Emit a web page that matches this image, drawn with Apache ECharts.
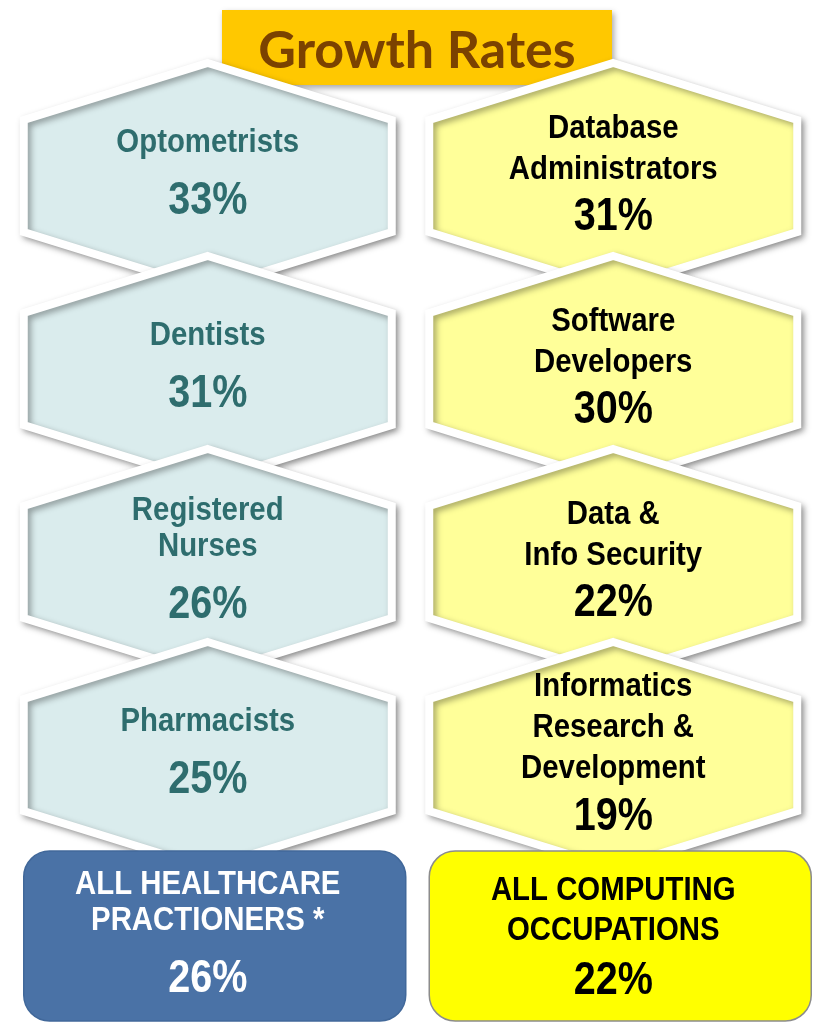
<!DOCTYPE html>
<html>
<head>
<meta charset="utf-8">
<title>Growth Rates</title>
<script src="https://cdn.jsdelivr.net/npm/echarts@6/dist/echarts.min.js"></script>
<style>
  html, body { margin: 0; padding: 0; background: #fff; }
  #chart { width: 816px; height: 1022px; }
</style>
</head>
<body>
<div id="chart"></div>
<script>
// 数据：左列医疗，右列计算机
const healthJobs = ['Optometrists', 'Dentists', 'Registered\nNurses', 'Pharmacists']
const healthRates = [33, 31, 26, 25]
const computingJobs = ['Database\nAdministrators', 'Software\nDevelopers', 'Data &\nInfo Security', 'Informatics\nResearch &\nDevelopment']
const computingRates = [31, 30, 22, 19]
const totalLabels = ['ALL HEALTHCARE\nPRACTIONERS *', 'ALL COMPUTING\nOCCUPATIONS']
const totalRates = [26, 22]

const FONT = '"Liberation Sans", Arial, sans-serif'

// 左右两列的文字样式
const healthStyle = { color: '#2e6d6e', lineH: 36, gap: 58, offset: -4 }
const computingStyle = { color: '#000', lineH: 41, gap: 48, offset: -3 }

/**
 * @description: 多行标签 + 百分比
 */
function textLines(cx, cy, label, rate, st) {
  const lines = label.split('\n')
  const total = (lines.length - 1) * st.lineH + st.gap
  const y0 = cy - total / 2 + st.offset
  const out = lines.map((t, i) => ({
    type: 'text',
    x: cx,
    y: y0 + i * st.lineH,
    scaleX: 0.89,
    style: { text: t, fill: st.color, font: 'bold 33px ' + FONT, align: 'center', verticalAlign: 'middle' }
  }))
  out.push({
    type: 'text',
    x: cx,
    y: y0 + total,
    scaleX: 0.86,
    style: { text: rate + '%', fill: st.color, font: 'bold 46px ' + FONT, align: 'center', verticalAlign: 'middle' }
  })
  return out
}

// 六边形
function hexRenderer(labels, rates, fill, st) {
  return function (params, api) {
    const c = api.coord([api.value(0), api.value(1)])
    const cx = c[0]
    const cy = c[1]
    const w = 184
    const h = 113
    const s = 56
    return {
      type: 'group',
      children: [
        {
          type: 'polygon',
          shape: {
            points: [[cx, cy - h], [cx + w, cy - s], [cx + w, cy + s], [cx, cy + h], [cx - w, cy + s], [cx - w, cy - s]]
          },
          style: {
            fill: fill,
            stroke: '#fff',
            lineWidth: 8,
            lineJoin: 'miter',
            shadowBlur: 6,
            shadowOffsetX: 3,
            shadowOffsetY: 3,
            shadowColor: 'rgba(0,0,0,0.35)'
          }
        }
      ].concat(textLines(cx, cy, labels[params.dataIndex], rates[params.dataIndex], st))
    }
  }
}

// 底部汇总框
function totalRenderer(params, api) {
  const i = params.dataIndex
  const c = api.coord([api.value(0), api.value(1)])
  const cx = c[0]
  const cy = c[1]
  const isHealth = i === 0
  const st = isHealth
    ? { color: '#fff', lineH: 36, gap: 58, offset: -4 }
    : { color: '#000', lineH: 40, gap: 50, offset: 0 }
  return {
    type: 'group',
    children: [
      {
        type: 'rect',
        shape: { x: cx - 184, y: cy - 97, width: 382, height: 170, r: 26 },
        style: {
          fill: isHealth ? '#4a72a6' : '#ffff00',
          stroke: isHealth ? '#41689a' : '#8c8c8c',
          lineWidth: 1.5
        }
      }
    ].concat(textLines(cx, cy - 12, totalLabels[i], totalRates[i], st))
  }
}

const chart = echarts.init(document.getElementById('chart'))
chart.setOption({
  backgroundColor: '#fff',
  animation: false,
  // 网格保持在画布内，否则 v6 会整体挪动
  grid: { left: 5, width: 812, top: 79.5, height: 907.1 },
  xAxis: { type: 'value', min: -0.5, max: 1.5, show: false },
  yAxis: { type: 'value', min: -0.5, max: 4.2, inverse: true, show: false },
  graphic: [
    {
      type: 'group',
      left: 222,
      top: 10,
      z: 100,
      children: [
        {
          type: 'rect',
          shape: { x: 0, y: 0, width: 390, height: 75 },
          style: {
            fill: '#ffc800',
            shadowBlur: 6,
            shadowOffsetX: 2,
            shadowOffsetY: 3,
            shadowColor: 'rgba(0,0,0,0.35)'
          }
        },
        {
          type: 'text',
          x: 195,
          y: 41,
          style: {
            text: 'Growth Rates',
            fill: '#7b4200',
            font: 'bold 52px Lato, "Open Sans", sans-serif',
            align: 'center',
            verticalAlign: 'middle'
          }
        }
      ]
    }
  ],
  series: [
    {
      type: 'custom',
      renderItem: hexRenderer(healthJobs, healthRates, '#daeced', healthStyle),
      data: healthJobs.map((d, i) => [0, i])
    },
    {
      type: 'custom',
      renderItem: hexRenderer(computingJobs, computingRates, '#ffff99', computingStyle),
      data: computingJobs.map((d, i) => [1, i])
    },
    {
      type: 'custom',
      renderItem: totalRenderer,
      data: totalLabels.map((d, i) => [i, healthJobs.length])
    }
  ]
})
</script>
</body>
</html>
